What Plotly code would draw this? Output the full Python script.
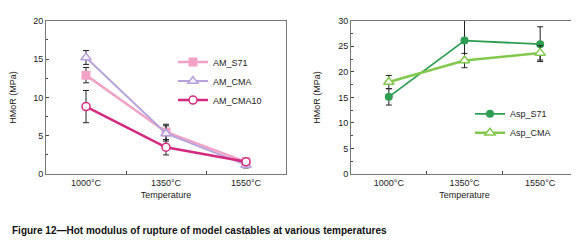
import plotly.graph_objects as go
from plotly.subplots import make_subplots

categories = ["1000°C", "1350°C", "1550°C"]

am_s71 = [12.9, 5.5, 1.6]
am_s71_err = [1.0, 1.0, 0.4]
am_cma = [15.2, 5.3, 1.2]
am_cma_err = [0.9, 1.0, 0.4]
am_cma10 = [8.8, 3.5, 1.6]
am_cma10_err = [2.1, 1.0, 0.3]

asp_s71 = [15.1, 26.1, 25.4]
asp_s71_err = [1.6, 4.3, 3.4]
asp_cma = [18.0, 22.2, 23.7]
asp_cma_err = [1.3, 1.4, 1.4]

font = "Liberation Sans, Arial, sans-serif"

fig = make_subplots(rows=1, cols=2)

def eb(err):
    return dict(type="data", array=err, color="#222222", thickness=1, width=3)

fig.add_trace(go.Scatter(x=categories, y=am_s71, name="AM_S71", mode="lines+markers",
                         line=dict(color="#f2a2c6", width=2.5),
                         marker=dict(symbol="square", size=9, color="#f2a2c6"),
                         error_y=eb(am_s71_err), legend="legend"), row=1, col=1)
fig.add_trace(go.Scatter(x=categories, y=am_cma, name="AM_CMA", mode="lines+markers",
                         line=dict(color="#b7a2dc", width=2),
                         marker=dict(symbol="triangle-up", size=9, color="#f4f0fb",
                                     line=dict(color="#b7a2dc", width=1.5)),
                         error_y=eb(am_cma_err), legend="legend"), row=1, col=1)
fig.add_trace(go.Scatter(x=categories, y=am_cma10, name="AM_CMA10", mode="lines+markers",
                         line=dict(color="#d3297f", width=2.5),
                         marker=dict(symbol="circle", size=8, color="white",
                                     line=dict(color="#d3297f", width=1.5)),
                         error_y=eb(am_cma10_err), legend="legend"), row=1, col=1)

fig.add_trace(go.Scatter(x=categories, y=asp_s71, name="Asp_S71", mode="lines+markers",
                         line=dict(color="#2e9e52", width=1.8),
                         marker=dict(symbol="circle", size=8, color="#2e9e52"),
                         error_y=eb(asp_s71_err), legend="legend2"), row=1, col=2)
fig.add_trace(go.Scatter(x=categories, y=asp_cma, name="Asp_CMA", mode="lines+markers",
                         line=dict(color="#82c84e", width=2.5),
                         marker=dict(symbol="triangle-up", size=9, color="white",
                                     line=dict(color="#82c84e", width=1.5)),
                         error_y=eb(asp_cma_err), legend="legend2"), row=1, col=2)

axis_common = dict(showline=True, mirror=True, linecolor="#777777", linewidth=1,
                   showgrid=False, zeroline=False,
                   tickfont=dict(family=font, size=9, color="#222222"))

fig.update_xaxes(type="category", range=[-0.5, 2.5], ticks="inside", tickson="boundaries",
                 ticklen=3, tickcolor="#444444",
                 title=dict(text="Temperature", font=dict(family=font, size=9, color="#222222"),
                            standoff=4),
                 **axis_common)
fig.update_xaxes(domain=[38/579, 278/579], row=1, col=1)
fig.update_xaxes(domain=[343/579, 570/579], row=1, col=2)

fig.update_yaxes(ticks="inside", ticklen=3, tickcolor="#444444",
                 minor=dict(ticks="inside", ticklen=2, dtick=2.5, tickcolor="#444444"),
                 title=dict(text="HMoR (MPa)", font=dict(family=font, size=9, color="#222222"),
                            standoff=16),
                 domain=[1 - 168/243, 1 - 8/243], **axis_common)
fig.update_yaxes(range=[0, 20], dtick=5, row=1, col=1)
fig.update_yaxes(range=[0, 30], dtick=5, row=1, col=2)

fig.update_layout(
    width=579, height=243,
    margin=dict(l=0, r=0, t=0, b=0),
    paper_bgcolor="white", plot_bgcolor="white",
    font=dict(family=font, size=9, color="#222222"),
    legend=dict(x=165/579, y=1 - 36/243, xanchor="left", yanchor="top",
                bgcolor="rgba(0,0,0,0)", font=dict(family=font, size=9),
                tracegroupgap=0, itemwidth=30),
    legend2=dict(x=462/579, y=1 - 90/243, xanchor="left", yanchor="top",
                 bgcolor="rgba(0,0,0,0)", font=dict(family=font, size=9),
                 itemwidth=30),
    annotations=[dict(text="<b>Figure 12—Hot modulus of rupture of model castables at various temperatures</b>",
                      xref="paper", yref="paper", x=2/579, y=1 - 227/243,
                      xanchor="left", yanchor="middle", showarrow=False,
                      font=dict(family=font, size=10, color="#111111"))],
)

fig.write_html("out.html")
